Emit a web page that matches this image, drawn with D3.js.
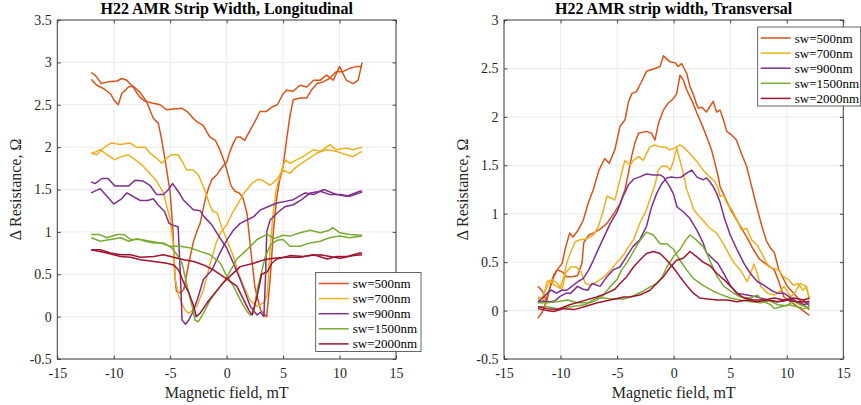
<!DOCTYPE html>
<html>
<head>
<meta charset="utf-8">
<script src="https://cdn.jsdelivr.net/npm/d3@7"></script>
<style>
  body { margin: 0; background: #fff; }
  text { font-family: "Liberation Serif", "Times New Roman", serif; }
</style>
</head>
<body>
<svg id="chart" width="861" height="405"></svg>
<script>
// tick values and labels
var fieldTicks = [-15, -10, -5, 0, 5, 10, 15];
var lonTicks = [-0.5, 0, 0.5, 1, 1.5, 2, 2.5, 3, 3.5];
var trTicks = [-0.5, 0, 0.5, 1, 1.5, 2, 2.5, 3];
var swNames = ["sw=500nm", "sw=700nm", "sw=900nm", "sw=1500nm", "sw=2000nm"];
var swColors = ["#D95319", "#EDB120", "#7E2F8E", "#77AC30", "#A2142F"];

// ---- longitudinal, [field mT, dR ohm], two sweep branches per strip width
var lon500a = [[-12,2.88],[-11.65,2.85],[-11.1,2.75],[-10.5,2.77],[-9.7,2.78],[-9.3,2.81],[-8.85,2.79],[-8.3,2.71],[-7.7,2.59],[-7.2,2.54],[-6.6,2.52],[-5.9,2.5],[-5.3,2.44],[-4.7,2.45],[-4,2.46],[-3.5,2.42],[-3.1,2.36],[-2.65,2.3],[-2.1,2.26],[-1.5,2.12],[-1,2.08],[-0.6,1.97],[-0.15,1.81],[0.4,1.54],[0.75,1.48],[1.1,1.46],[1.45,1.4],[1.8,1.22],[2.1,0.83],[2.5,0.35],[3,0.08],[3.3,0.03],[3.55,0],[3.85,0.44],[4.15,1.02],[4.45,1.42],[4.7,1.61],[5,1.77],[5.3,2.08],[5.6,2.36],[5.9,2.56],[6.5,2.58],[7.1,2.58],[7.5,2.67],[8,2.75],[8.55,2.77],[9.1,2.81],[9.7,2.89],[10.3,2.89],[10.9,2.93],[11.5,2.95],[12,2.95]];
var lon500b = [[-12,2.8],[-11.5,2.73],[-10.9,2.69],[-10.3,2.63],[-9.9,2.54],[-9.6,2.5],[-9.3,2.63],[-8.7,2.71],[-8.3,2.72],[-7.7,2.65],[-7.1,2.54],[-6.8,2.44],[-6.5,2.34],[-6.05,2.28],[-5.8,2.12],[-5.45,1.85],[-5,1.46],[-4.75,1.0],[-4.6,0.5],[-4.45,0.3],[-4.1,0.28],[-3.8,0.32],[-3.4,0.6],[-2.95,0.88],[-2.6,1.02],[-2.35,1.1],[-1.9,1.38],[-1.6,1.52],[-1.3,1.62],[-0.9,1.67],[-0.3,1.78],[0,1.82],[0.3,1.95],[0.6,2.05],[0.9,2.12],[1.2,2.12],[1.6,2.08],[2,2.18],[2.5,2.3],[2.95,2.42],[3.5,2.42],[4.1,2.48],[4.5,2.5],[5,2.63],[5.3,2.67],[5.9,2.66],[6.5,2.73],[7.1,2.71],[7.7,2.79],[8.3,2.79],[8.85,2.85],[9.45,2.79],[10,2.95],[10.6,2.79],[11.2,2.75],[11.65,2.79],[12,3.0]];
var lon700a = [[-12,1.93],[-11.5,1.91],[-10.9,1.99],[-10.2,2.05],[-9.4,2.03],[-8.6,2.05],[-8,2.0],[-7.2,2.0],[-6.8,1.93],[-6.2,1.87],[-5.75,1.81],[-5.3,1.87],[-4.9,1.91],[-4.3,1.91],[-3.85,1.81],[-3.55,1.73],[-2.95,1.73],[-2.5,1.67],[-2.05,1.53],[-1.75,1.42],[-1.45,1.3],[-1.2,1.24],[-0.85,1.23],[-0.45,1.06],[0,0.91],[0.6,0.71],[1.05,0.51],[1.5,0.36],[2.05,0.2],[2.65,0.12],[3.25,0.16],[3.6,0.26],[3.8,0.7],[4.1,1.2],[4.4,1.5],[4.8,1.7],[5.2,1.85],[5.6,1.81],[6.2,1.85],[6.8,1.89],[7.7,1.97],[8.3,1.95],[9.15,2.03],[9.7,1.97],[10.6,1.99],[11.2,1.97],[12,2.0]];
var lon700b = [[-12,1.92],[-11.2,1.97],[-10.6,1.91],[-9.9,1.85],[-9.3,1.89],[-8.7,1.91],[-8.1,1.85],[-7.5,1.79],[-6.8,1.69],[-6.2,1.6],[-5.6,1.46],[-5,1.14],[-4.7,0.83],[-4.55,0.44],[-4.25,0.24],[-3.7,0.08],[-3.35,0.04],[-2.65,0.12],[-2.05,0.32],[-1.45,0.63],[-0.9,0.88],[-0.5,1.0],[0,1.08],[0.5,1.22],[1,1.33],[1.5,1.45],[1.8,1.5],[2.3,1.58],[2.8,1.62],[3.3,1.6],[3.85,1.55],[4.45,1.62],[5,1.73],[5.6,1.69],[6.2,1.77],[7.1,1.85],[8,1.93],[8.85,1.97],[9.7,1.95],[10.6,1.91],[11.2,1.89],[12,1.95]];
var lon900a = [[-12,1.59],[-11.65,1.57],[-11.05,1.63],[-10.5,1.63],[-9.9,1.54],[-8.7,1.54],[-8.1,1.61],[-7.4,1.6],[-6.8,1.55],[-6.2,1.44],[-5.6,1.44],[-5.15,1.5],[-4.8,1.57],[-4.3,1.48],[-3.85,1.38],[-2.95,1.26],[-2.35,1.25],[-2,1.18],[-1.3,1.08],[-0.6,0.93],[0,0.81],[0.6,0.63],[1.2,0.44],[1.65,0.28],[2.1,0.12],[2.7,0.02],[3,0.05],[3.3,0.0],[3.45,0.5],[3.55,1.0],[3.85,1.14],[4.45,1.22],[5.2,1.3],[5.9,1.32],[6.65,1.38],[7.4,1.46],[8.3,1.48],[9.15,1.44],[10.05,1.44],[10.9,1.42],[11.8,1.46],[12,1.47]];
var lon900b = [[-12,1.46],[-11.2,1.51],[-10.6,1.42],[-10,1.33],[-9.3,1.39],[-8.85,1.46],[-8.3,1.42],[-7.65,1.37],[-7,1.37],[-6.5,1.39],[-6.1,1.32],[-5.5,1.24],[-5.1,1.1],[-4.8,1.08],[-4.3,1.06],[-4.1,0.5],[-3.95,-0.04],[-3.65,-0.09],[-3.35,-0.04],[-3.05,0.04],[-2.6,0.2],[-2.05,0.44],[-1.3,0.55],[-0.6,0.75],[0,0.9],[0.6,1.02],[1.2,1.1],[1.8,1.14],[2.4,1.18],[3,1.26],[3.7,1.3],[4.45,1.34],[5.2,1.36],[5.9,1.38],[6.95,1.46],[7.7,1.44],[8.6,1.5],[9.75,1.44],[10.65,1.42],[11.8,1.48],[12,1.48]];
var lon1500a = [[-12,0.97],[-11.3,0.97],[-10.6,0.93],[-9.7,0.97],[-9.1,0.97],[-8.5,0.91],[-7.65,0.91],[-6.75,0.89],[-5.9,0.87],[-5,0.83],[-4.1,0.83],[-3.2,0.81],[-2.35,0.77],[-1.45,0.73],[-0.55,0.63],[0,0.48],[0.6,0.36],[1.2,0.2],[1.8,0.06],[2.1,0.02],[2.4,0.04],[2.7,0.32],[3,0.47],[3.4,0.7],[3.9,0.85],[4.45,0.9],[5,0.91],[5.6,0.83],[6.5,0.83],[7.4,0.87],[8.3,0.89],[9.1,0.93],[10,0.95],[10.9,0.93],[12,0.95]];
var lon1500b = [[-12,0.93],[-11.2,0.89],[-10.3,0.91],[-9.4,0.93],[-8.65,0.89],[-7.95,0.92],[-7.2,0.89],[-6.45,0.87],[-5.6,0.87],[-4.85,0.81],[-4.4,0.73],[-3.95,0.63],[-3.5,0.36],[-3.05,0.12],[-2.8,-0.04],[-2.5,-0.06],[-2.05,0.04],[-1.45,0.2],[-0.55,0.36],[0,0.46],[0.9,0.68],[1.8,0.79],[2.7,0.91],[3.6,0.97],[4.2,0.92],[5,0.96],[5.6,0.95],[6.5,0.99],[7.4,1.02],[8.3,0.99],[9.1,1.02],[9.4,1.05],[10,0.99],[10.9,0.97],[12,0.96]];
var lon2000a = [[-12,0.79],[-11.2,0.79],[-10.3,0.75],[-9.4,0.73],[-8.5,0.73],[-7.65,0.7],[-6.45,0.71],[-5.6,0.73],[-4.7,0.7],[-3.8,0.67],[-2.9,0.65],[-2.05,0.61],[-1.15,0.55],[-0.25,0.47],[0.9,0.36],[1.5,0.2],[1.95,0.08],[2.25,0.02],[2.7,0.24],[3.1,0.5],[3.6,0.53],[4,0.63],[4.45,0.68],[5.6,0.72],[6.8,0.71],[7.7,0.73],[8.9,0.68],[9.75,0.71],[10.65,0.71],[11.8,0.75],[12,0.75]];
var lon2000b = [[-12,0.79],[-10.6,0.75],[-9.4,0.71],[-8.5,0.7],[-7.65,0.67],[-6.45,0.65],[-5.3,0.63],[-4.7,0.61],[-4.25,0.55],[-3.8,0.4],[-3.35,0.28],[-2.9,0.12],[-2.7,0.0],[-2.35,0.04],[-1.75,0.16],[-1.15,0.26],[-0.55,0.36],[0,0.44],[1.2,0.59],[2.4,0.63],[3.3,0.67],[4.15,0.69],[5.35,0.7],[6.5,0.7],[7.4,0.72],[8.3,0.73],[9.15,0.71],[10.05,0.69],[11.25,0.72],[12,0.73]];

// ---- transversal
var tr500a = [[-12,-0.08],[-11.6,-0.01],[-11.2,0.11],[-10.9,0.25],[-10.6,0.35],[-10.3,0.42],[-9.85,0.49],[-9.6,0.63],[-9.2,0.8],[-8.9,0.76],[-8.45,0.83],[-8,0.93],[-7.55,1.11],[-7.1,1.25],[-6.6,1.45],[-6.1,1.57],[-5.7,1.52],[-5.2,1.66],[-4.75,1.9],[-4.3,1.97],[-4,2.15],[-3.7,2.24],[-3.3,2.26],[-2.85,2.36],[-2.4,2.47],[-1.65,2.5],[-1.2,2.52],[-0.9,2.63],[-0.35,2.57],[0.1,2.56],[0.4,2.52],[0.7,2.55],[1.15,2.45],[1.45,2.31],[1.75,2.23],[2.05,2.12],[2.2,2.09],[2.5,2.1],[2.9,2.05],[3.5,2.16],[3.8,2.05],[4.1,2.07],[4.4,1.97],[4.7,1.85],[5.15,1.81],[5.55,1.76],[6,1.62],[6.45,1.49],[6.9,1.28],[7.35,1.07],[7.8,0.87],[8.2,0.72],[8.6,0.64],[8.9,0.6],[9.3,0.42],[10.05,0.25],[10.9,0.14],[11.5,0.06],[12,0.01]];
var tr500b = [[-12,0.25],[-11.6,0.2],[-11.3,0.11],[-11,0.21],[-10.6,0.37],[-10.3,0.42],[-9.85,0.4],[-9.45,0.35],[-9,0.35],[-8.5,0.36],[-8.1,0.49],[-7.95,0.7],[-7.5,0.78],[-7.1,0.8],[-6.5,0.84],[-5.9,0.9],[-5.3,1.0],[-4.75,1.1],[-4.3,1.25],[-4,1.42],[-3.7,1.6],[-3.4,1.74],[-3.1,1.83],[-2.4,1.85],[-1.95,1.83],[-1.65,1.76],[-1.35,1.93],[-0.9,2.07],[-0.5,2.14],[0,2.19],[0.27,2.24],[0.56,2.43],[0.85,2.38],[1.15,2.28],[1.6,2.17],[2.05,2.04],[2.5,1.92],[2.9,1.8],[3.35,1.66],[3.65,1.52],[3.95,1.38],[4.1,1.28],[4.5,1.18],[5,1.05],[5.5,0.95],[6,0.85],[6.5,0.75],[7.1,0.62],[7.6,0.53],[8.3,0.47],[8.9,0.42],[9.3,0.3],[9.75,0.14],[10.5,0.08],[11.2,0.02],[12,-0.05]];
var tr700a = [[-12,0.14],[-11.65,0.13],[-11.3,0.22],[-10.95,0.31],[-10.5,0.26],[-10.05,0.23],[-9.75,0.33],[-9.45,0.49],[-9.15,0.59],[-8.7,0.71],[-8.3,0.73],[-7.7,0.74],[-7.1,0.78],[-6.65,0.87],[-6.2,1.04],[-5.9,1.18],[-5.5,1.16],[-5.2,1.14],[-4.75,1.35],[-4.45,1.49],[-4.3,1.55],[-3.85,1.5],[-3.55,1.55],[-3.1,1.59],[-2.7,1.55],[-2.4,1.62],[-2.1,1.69],[-1.65,1.71],[-1.2,1.69],[-0.75,1.69],[-0.35,1.66],[0.1,1.68],[0.55,1.71],[0.85,1.69],[1.45,1.62],[2.05,1.54],[2.6,1.45],[3.2,1.38],[3.65,1.33],[3.95,1.25],[4.1,1.18],[4.4,1.19],[4.7,1.11],[5.15,1.04],[5.55,0.95],[6,0.83],[6.45,0.85],[6.9,0.73],[7.35,0.68],[7.8,0.59],[8.2,0.49],[8.65,0.44],[9.25,0.42],[9.7,0.35],[10.15,0.32],[10.6,0.26],[11,0.28],[11.45,0.21],[11.75,0.25],[12,0.11]];
var tr700b = [[-12,0.13],[-11.6,0.08],[-11.2,0.3],[-10.75,0.32],[-10.3,0.28],[-9.85,0.22],[-9.55,0.39],[-9.1,0.45],[-8.6,0.45],[-8.2,0.4],[-7.8,0.28],[-7.35,0.26],[-6.75,0.3],[-6.15,0.35],[-5.55,0.42],[-5,0.5],[-4.4,0.58],[-4.15,0.63],[-3.55,0.73],[-3,0.9],[-2.4,1.04],[-2.1,1.15],[-1.65,1.3],[-1.35,1.45],[-1.05,1.49],[-0.6,1.49],[-0.3,1.45],[0,1.55],[0.27,1.68],[0.56,1.55],[0.85,1.42],[1.15,1.25],[1.45,1.16],[1.75,1.05],[2.05,1.0],[2.6,0.93],[3.2,0.85],[3.8,0.8],[4.45,0.68],[4.9,0.58],[5.35,0.49],[5.9,0.42],[6.5,0.3],[6.8,0.38],[7.1,0.48],[7.4,0.38],[7.7,0.25],[8.3,0.18],[8.9,0.16],[9.4,0.2],[9.75,0.25],[10.35,0.14],[10.8,0.2],[11.2,0.28],[11.7,0.25],[12,0.13]];
var tr900a = [[-12,0.09],[-11.5,0.14],[-11,0.2],[-10.8,0.21],[-10.35,0.18],[-9.9,0.21],[-9.45,0.21],[-9,0.25],[-8.45,0.3],[-8,0.33],[-7.5,0.42],[-7.1,0.52],[-6.6,0.65],[-6.2,0.75],[-5.6,0.9],[-5,1.02],[-4.5,1.17],[-4,1.3],[-3.5,1.36],[-3,1.38],[-2.4,1.41],[-1.8,1.4],[-1.2,1.4],[-0.9,1.38],[-0.35,1.28],[0,1.2],[0.3,1.07],[0.85,1.02],[1.45,0.95],[2.05,0.83],[2.6,0.7],[2.9,0.6],[3.5,0.53],[3.9,0.49],[4.45,0.38],[5.05,0.25],[5.6,0.18],[6.5,0.16],[7.4,0.14],[8.3,0.11],[9.15,0.09],[9.8,0.1],[10.5,0.12],[11,0.08],[11.5,0.1],[12,0.05]];
var tr900b = [[-12,0.08],[-11.5,0.1],[-11,0.09],[-10.5,0.1],[-10,0.15],[-9.5,0.18],[-9.1,0.18],[-8.5,0.25],[-8,0.22],[-7.6,0.21],[-7.2,0.28],[-6.5,0.25],[-5.9,0.35],[-5.35,0.42],[-4.75,0.45],[-4.15,0.56],[-3.6,0.66],[-3,0.73],[-2.4,0.87],[-1.95,1.07],[-1.5,1.21],[-1.05,1.31],[-0.6,1.37],[-0.2,1.38],[0.3,1.37],[0.7,1.38],[1.15,1.42],[1.6,1.45],[2.05,1.38],[2.6,1.35],[2.9,1.37],[3.2,1.33],[3.5,1.28],[3.8,1.21],[4.1,1.12],[4.5,0.95],[5,0.78],[5.6,0.63],[6.2,0.49],[6.8,0.38],[7.4,0.3],[8,0.26],[8.6,0.21],[9.15,0.18],[9.75,0.18],[10.35,0.13],[10.9,0.08],[11.5,0.06],[12,0.08]];
var tr1500a = [[-12,0.04],[-11.2,0.04],[-10.3,0.02],[-9.1,0.04],[-7.9,0.06],[-6.75,0.11],[-6.2,0.16],[-5.6,0.25],[-5,0.32],[-4.6,0.42],[-4.1,0.5],[-3.6,0.6],[-3,0.72],[-2.4,0.81],[-1.8,0.78],[-1.2,0.69],[-0.6,0.69],[0,0.63],[0.55,0.52],[1.15,0.42],[1.75,0.33],[2.6,0.26],[3.5,0.2],[4.1,0.17],[5,0.13],[5.9,0.11],[6.8,0.09],[7.7,0.08],[8.5,0.1],[9.2,0.06],[10,0.05],[10.6,0.1],[11.2,0.06],[12,0.03]];
var tr1500b = [[-12,0.08],[-11.2,0.08],[-10.3,0.09],[-9.4,0.11],[-8.5,0.08],[-7.6,0.08],[-6.75,0.13],[-6.2,0.13],[-5.5,0.12],[-4.45,0.12],[-3.6,0.15],[-2.7,0.2],[-2,0.25],[-1.5,0.28],[-1,0.35],[-0.6,0.45],[0,0.56],[0.55,0.63],[1.15,0.74],[1.45,0.78],[2,0.73],[2.6,0.66],[2.9,0.6],[3.3,0.49],[3.85,0.35],[4.45,0.25],[5.3,0.18],[5.9,0.14],[6.8,0.13],[7.4,0.16],[8,0.09],[8.6,0.06],[8.9,0.02],[9.5,0.04],[10.2,0.06],[10.9,0.04],[11.5,0.02],[12,0.04]];
var tr2000a = [[-12,0.04],[-11.2,0.02],[-10.3,0.01],[-9.2,0.06],[-8,0.1],[-6.8,0.14],[-5.9,0.18],[-5.2,0.22],[-4.75,0.28],[-4.15,0.35],[-3.55,0.45],[-3,0.52],[-2.4,0.59],[-1.8,0.61],[-1.2,0.59],[-0.6,0.52],[0,0.44],[0.55,0.35],[1.15,0.26],[1.75,0.18],[2.3,0.13],[3,0.12],[3.9,0.11],[4.75,0.11],[5.6,0.09],[6.5,0.11],[7.4,0.09],[8.3,0.11],[9.15,0.09],[10,0.11],[10.9,0.09],[11.8,0.09],[12,0.1]];
var tr2000b = [[-12,0.02],[-11.2,0.0],[-10.6,-0.01],[-9.7,0.02],[-8.8,0.01],[-7.9,0.04],[-6.75,0.08],[-5.6,0.11],[-4.4,0.14],[-3.85,0.14],[-3,0.16],[-2.1,0.21],[-1.5,0.28],[-0.9,0.35],[-0.35,0.44],[0.25,0.52],[0.85,0.54],[1.45,0.61],[2,0.56],[2.6,0.5],[3.25,0.46],[3.85,0.38],[4.45,0.32],[5.05,0.25],[5.6,0.18],[6.2,0.13],[7.1,0.11],[8,0.11],[8.9,0.13],[9.75,0.11],[10.6,0.13],[11.5,0.11],[12,0.13]];

var lonSeries = [[lon500a, lon500b], [lon700a, lon700b], [lon900a, lon900b], [lon1500a, lon1500b], [lon2000a, lon2000b]];
var trSeries = [[tr500a, tr500b], [tr700a, tr700b], [tr900a, tr900b], [tr1500a, tr1500b], [tr2000a, tr2000b]];

var svg = d3.select("#chart");
var axisColor = "#404040";

function drawPanel(cfg) {
    var g = svg.append("g").attr("transform", "translate(" + cfg.left + "," + cfg.top + ")");
    var x = d3.scaleLinear().domain([-15, 15]).range([0, cfg.width]);
    var y = d3.scaleLinear().domain(cfg.yDomain).range([cfg.height, 0]);

    // grid
    g.append("g").selectAll("line").data(fieldTicks).enter().append("line")
        .attr("x1", function (d) { return x(d); }).attr("x2", function (d) { return x(d); })
        .attr("y1", 0).attr("y2", cfg.height)
        .attr("stroke", "#ebebeb").attr("stroke-width", 1);
    g.append("g").selectAll("line").data(cfg.yTicks).enter().append("line")
        .attr("y1", function (d) { return y(d); }).attr("y2", function (d) { return y(d); })
        .attr("x1", 0).attr("x2", cfg.width)
        .attr("stroke", "#ebebeb").attr("stroke-width", 1);

    // curves
    var line = d3.line()
        .x(function (d) { return x(d[0]); })
        .y(function (d) { return y(d[1]); });
    cfg.series.forEach(function (branches, i) {
        branches.forEach(function (b) {
            g.append("path").datum(b)
                .attr("d", line)
                .attr("fill", "none")
                .attr("stroke", swColors[i])
                .attr("stroke-width", 1.5)
                .attr("stroke-linejoin", "round");
        });
    });

    // axes, ticks inward on all four sides
    var fmt = function (d) { return String(d); };
    var bottom = g.append("g").attr("transform", "translate(0," + cfg.height + ")")
        .call(d3.axisBottom(x).tickValues(fieldTicks).tickSize(-3.4).tickPadding(9).tickFormat(fmt));
    var left = g.append("g")
        .call(d3.axisLeft(y).tickValues(cfg.yTicks).tickSize(-3.4).tickPadding(5.5).tickFormat(fmt));
    var top = g.append("g")
        .call(d3.axisTop(x).tickValues(fieldTicks).tickSize(-3.4).tickFormat(""));
    var right = g.append("g").attr("transform", "translate(" + cfg.width + ",0)")
        .call(d3.axisRight(y).tickValues(cfg.yTicks).tickSize(-3.4).tickFormat(""));
    [bottom, left, top, right].forEach(function (a) {
        a.attr("color", axisColor)
            .attr("font-family", "'Liberation Serif', 'Times New Roman', serif")
            .attr("font-size", 14);
        a.select(".domain").remove();
        a.selectAll("text").attr("fill", "#262626");
    });
    g.append("rect")
        .attr("width", cfg.width).attr("height", cfg.height)
        .attr("fill", "none").attr("stroke", axisColor).attr("stroke-width", 1);

    // labels
    g.append("text")
        .attr("x", cfg.width / 2).attr("y", -6)
        .attr("text-anchor", "middle")
        .attr("font-size", 16).attr("font-weight", "bold").attr("fill", "#000")
        .text(cfg.title);
    g.append("text")
        .attr("x", cfg.width / 2).attr("y", cfg.height + 39)
        .attr("text-anchor", "middle")
        .attr("font-size", 16).attr("fill", "#262626")
        .text("Magnetic field, mT");
    g.append("text")
        .attr("transform", "translate(" + cfg.yLabelX + "," + (cfg.height / 2) + ") rotate(-90)")
        .attr("text-anchor", "middle")
        .attr("font-size", 16).attr("fill", "#262626")
        .text("\u0394 Resistance, \u03A9");

    // legend
    var lg = svg.append("g").attr("transform", "translate(" + cfg.legend[0] + "," + cfg.legend[1] + ")");
    lg.append("rect")
        .attr("width", cfg.legend[2]).attr("height", 79)
        .attr("fill", "#fff").attr("stroke", axisColor).attr("stroke-width", 0.8);
    swNames.forEach(function (name, i) {
        var yy = 11 + i * 15.1;
        lg.append("line")
            .attr("x1", 3).attr("x2", 33).attr("y1", yy).attr("y2", yy)
            .attr("stroke", swColors[i]).attr("stroke-width", 1.5);
        lg.append("text")
            .attr("x", 37).attr("y", yy).attr("dy", "0.35em")
            .attr("font-size", 13).attr("fill", "#000")
            .text(name);
    });
}

drawPanel({
    left: 57.3, top: 20, width: 338.7, height: 339,
    yDomain: [-0.5, 3.5], yTicks: lonTicks,
    title: "H22 AMR Strip Width, Longitudinal",
    yLabelX: -36,
    series: lonSeries,
    legend: [315.7, 272.5, 105.3]
});
drawPanel({
    left: 504, top: 20, width: 339.3, height: 339,
    yDomain: [-0.5, 3], yTicks: trTicks,
    title: "H22 AMR strip width, Transversal",
    yLabelX: -36,
    series: trSeries,
    legend: [757.7, 27, 103]
});
</script>
</body>
</html>
